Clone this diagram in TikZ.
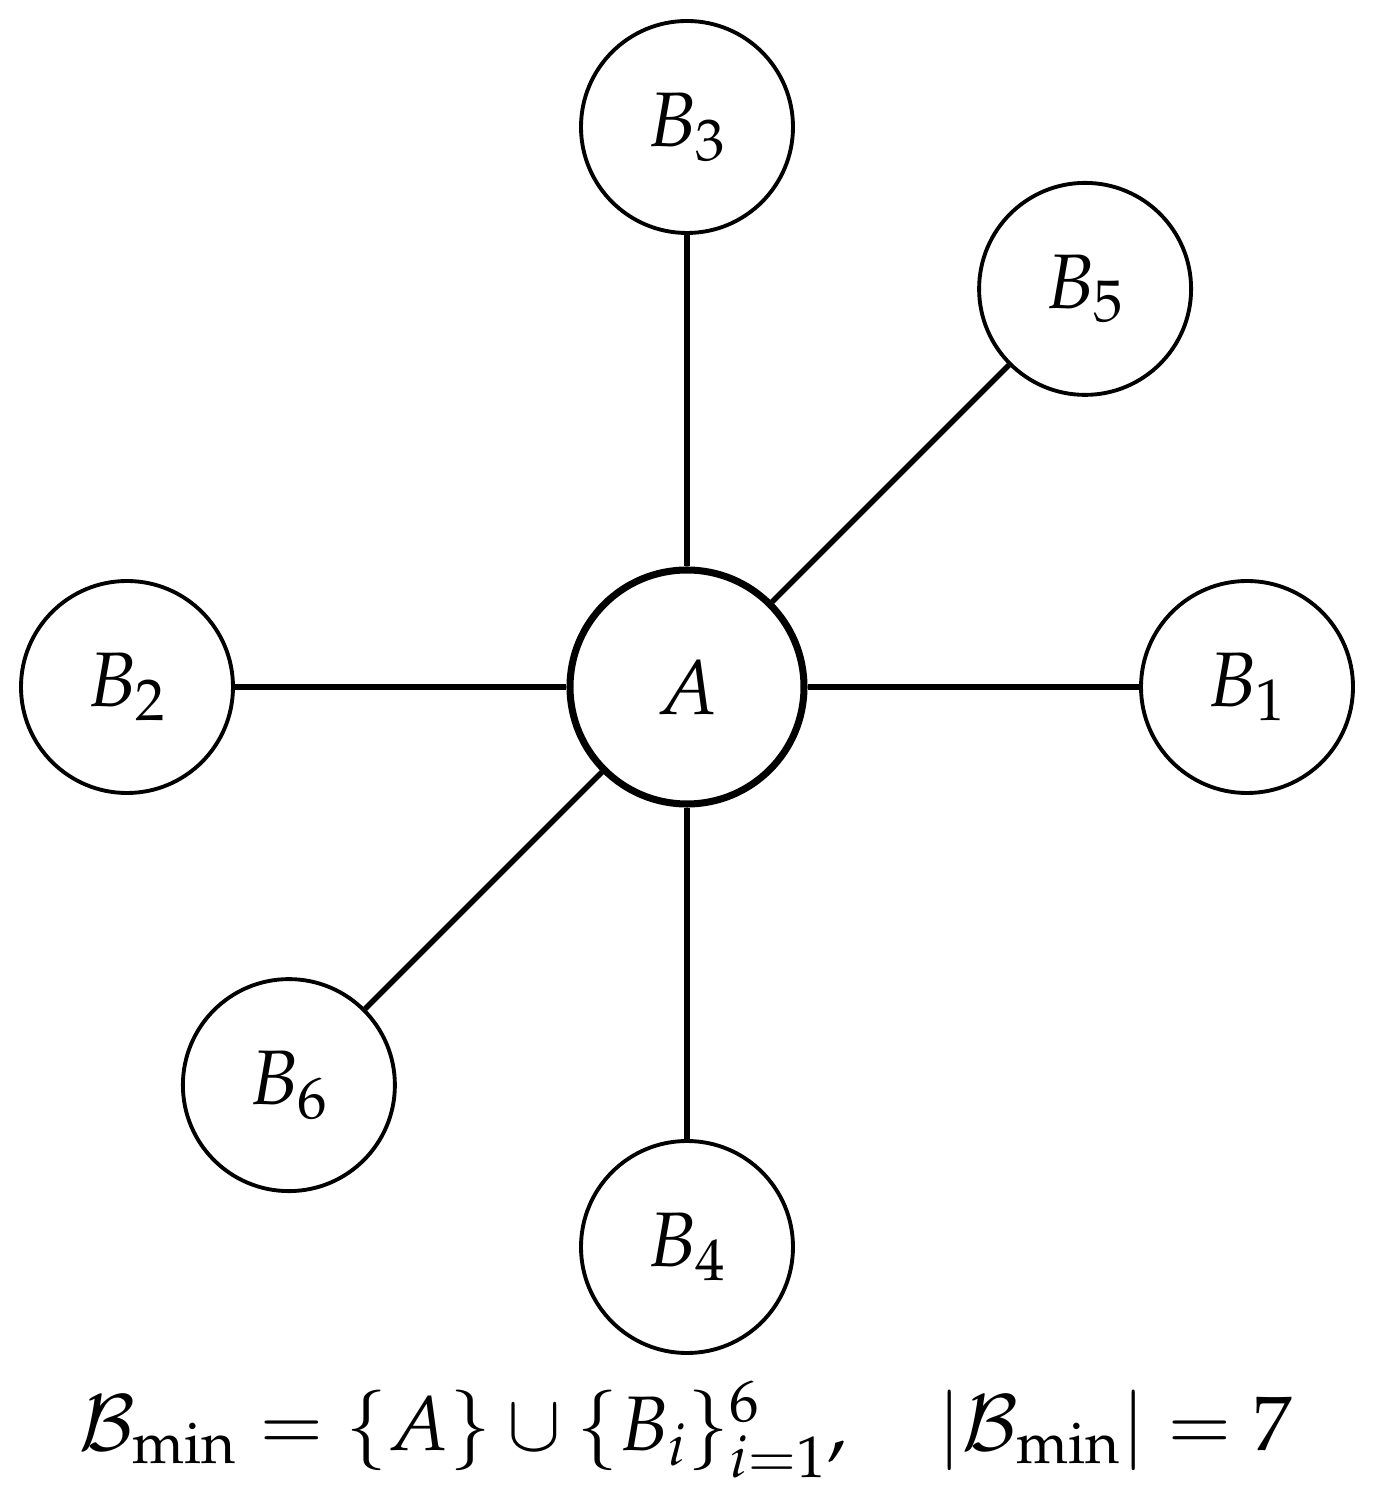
\documentclass[tikz,border=0pt]{standalone}
\usepackage{mathpazo}
\begin{document}
\begin{tikzpicture}[font=\fontsize{22}{26}\selectfont,
  hub/.style={circle,draw,line width=2pt,minimum size=2.34cm,inner sep=0pt},
  leaf/.style={circle,draw,line width=1.1pt,minimum size=2.12cm,inner sep=0pt},
  edge/.style={line width=1.6pt}]
\useasboundingbox (-6.87,-8.06) rectangle (6.94,6.87);
\node[hub] (A) at (0,0) {$A$};
%the six outer nodes
\foreach \i/\a/\r in {1/0/5.6,2/180/5.6,3/90/5.6,4/270/5.6,5/45/5.63,6/225/5.63}
  \node[leaf] (B\i) at (\a:\r) {$B_{\i}$};
\foreach \i in {1,...,6}
  \draw[edge] (A) -- (B\i);
\node[anchor=base] (caption) at (-0.02,-7.63) {$\mathcal{B}_{\min} = \{A\} \cup \{B_i\}_{i=1}^{6}, \quad |\mathcal{B}_{\min}| = 7$};
\end{tikzpicture}
\end{document}
